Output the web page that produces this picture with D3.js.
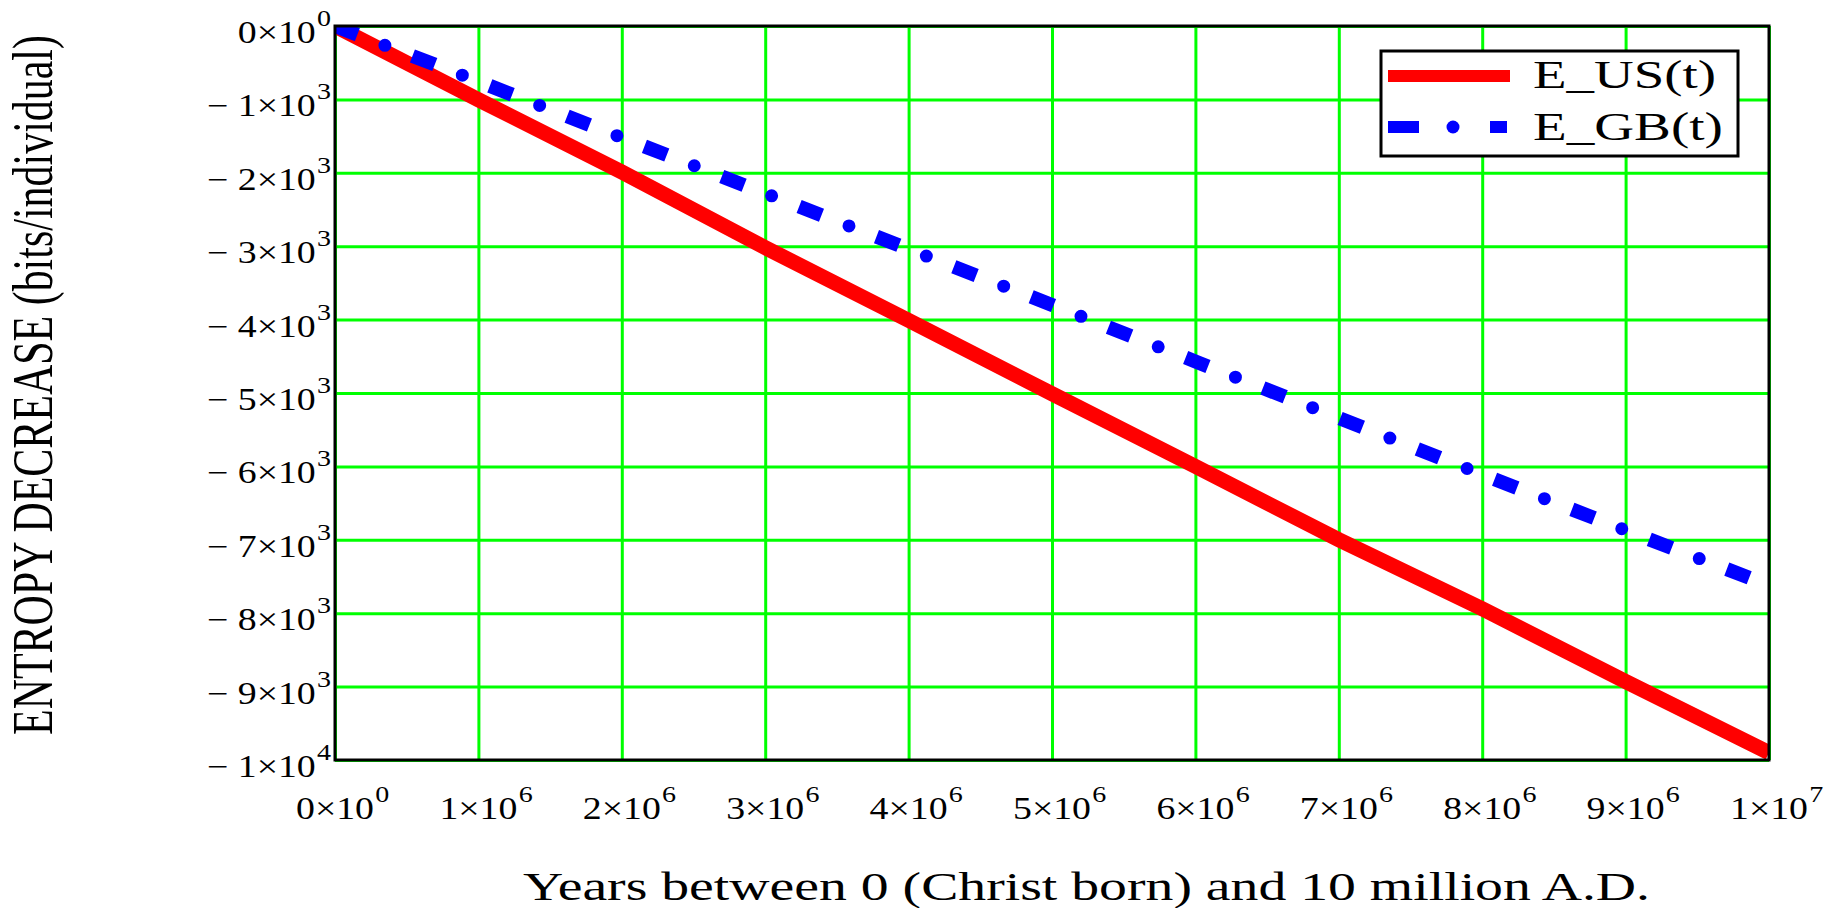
<!DOCTYPE html>
<html>
<head>
<meta charset="utf-8">
<script src="https://cdn.jsdelivr.net/npm/d3@7"></script>
<style>
  body { margin: 0; background: #fff; }
  text { font-family: "Liberation Serif", "Times New Roman", serif; fill: #000; }
</style>
</head>
<body>
<script>
// data
const years = [0, 1e6, 2e6, 3e6, 4e6, 5e6, 6e6, 7e6, 8e6, 9e6, 1e7];
const eUS = [0, -1005, -1990, -3020, -4010, -5010, -6000, -7000, -7940, -8930, -9900];
const eGB = [0, -755, -1520, -2280, -3040, -3800, -4570, -5340, -6110, -6870, -7620];
const seriesNames = ["E_US(t)", "E_GB(t)"];
const xTicks = [0, 1e6, 2e6, 3e6, 4e6, 5e6, 6e6, 7e6, 8e6, 9e6, 1e7];
const yTicks = [0, -1e3, -2e3, -3e3, -4e3, -5e3, -6e3, -7e3, -8e3, -9e3, -1e4];
const xTitle = "Years between 0 (Christ born) and 10 million A.D.";
const yTitle = "ENTROPY DECREASE (bits/individual)";

const W = 1841, H = 908;
const box = {left: 335, top: 26, right: 1769, bottom: 760};

const svg = d3.select("body").append("svg").attr("width", W).attr("height", H);

const x = d3.scaleLinear().domain([0, 1e7]).range([box.left, box.right]);
const y = d3.scaleLinear().domain([-1e4, 0]).range([box.bottom, box.top]);

// green grid, drawn with the axes
const gx = svg.append("g").attr("transform", `translate(0,${box.bottom})`)
  .call(d3.axisBottom(x).tickValues(xTicks).tickSize(-(box.bottom - box.top)).tickFormat(""));
const gy = svg.append("g").attr("transform", `translate(${box.left},0)`)
  .call(d3.axisLeft(y).tickValues(yTicks).tickSize(-(box.right - box.left)).tickFormat(""));
[gx, gy].forEach(g => {
  g.select(".domain").remove();
  g.selectAll(".tick line").attr("stroke", "#00ff00").attr("stroke-width", 3);
});

// tick label like 1x10^6
function parts(v) {
  if (v === 0) return {base: "0×10", exp: "0"};
  const e = Math.floor(Math.log10(Math.abs(v)));
  const m = Math.round(Math.abs(v) / Math.pow(10, e));
  return {base: (v < 0 ? "− " : "") + m + "×10", exp: String(e)};
}

const sx = 1.22;

// y labels
yTicks.forEach(v => {
  const p = parts(v);
  const g = svg.append("g").attr("transform", `translate(331,${y(v) + 17}) scale(${sx},1)`);
  const sup = g.append("text").attr("text-anchor", "end").attr("y", -17)
    .style("font-size", "23px").text(p.exp);
  const w = sup.node().getComputedTextLength();
  g.append("text").attr("text-anchor", "end").attr("x", -w - 1)
    .style("font-size", "31px").text(p.base);
});

// x labels
xTicks.forEach(v => {
  const p = parts(v);
  const g = svg.append("g").attr("transform", `translate(${x(v)},819) scale(${sx},1)`);
  const b = g.append("text").attr("text-anchor", "middle").style("font-size", "31px").text(p.base);
  const w = b.node().getComputedTextLength();
  g.append("text").attr("x", w / 2 + 1).attr("y", -17).style("font-size", "23px").text(p.exp);
});

// lines
svg.append("clipPath").attr("id", "plot").append("rect")
  .attr("x", box.left).attr("y", box.top)
  .attr("width", box.right - box.left).attr("height", box.bottom - box.top);

const line = d3.line().x(d => x(d[0])).y(d => y(d[1]));
const plot = svg.append("g").attr("clip-path", "url(#plot)");

plot.append("path").datum(d3.zip(years, eUS)).attr("d", line)
  .attr("fill", "none").attr("stroke", "#ff0000").attr("stroke-width", 15);

// dash-dot: dashes and dots as two passes
const gb = d3.zip(years, eGB);
plot.append("path").datum(gb).attr("d", line)
  .attr("fill", "none").attr("stroke", "#0000ff").attr("stroke-width", 14)
  .attr("stroke-dasharray", "24 59");
plot.append("path").datum(gb).attr("d", line)
  .attr("fill", "none").attr("stroke", "#0000ff").attr("stroke-width", 13)
  .attr("stroke-linecap", "round").attr("stroke-dasharray", "0 83").attr("stroke-dashoffset", 29.5);

// frame
svg.append("rect").attr("x", box.left).attr("y", box.top)
  .attr("width", box.right - box.left).attr("height", box.bottom - box.top)
  .attr("fill", "none").attr("stroke", "#000").attr("stroke-width", 3);

// legend
const leg = svg.append("g");
leg.append("rect").attr("x", 1381).attr("y", 51).attr("width", 357).attr("height", 105)
  .attr("fill", "#fff").attr("stroke", "#000").attr("stroke-width", 3);
leg.append("line").attr("x1", 1388).attr("x2", 1510).attr("y1", 76).attr("y2", 76)
  .attr("stroke", "#ff0000").attr("stroke-width", 12);
leg.append("line").attr("x1", 1388).attr("x2", 1507).attr("y1", 127).attr("y2", 127)
  .attr("stroke", "#0000ff").attr("stroke-width", 12).attr("stroke-dasharray", "31 71");
leg.append("line").attr("x1", 1388).attr("x2", 1507).attr("y1", 127).attr("y2", 127)
  .attr("stroke", "#0000ff").attr("stroke-width", 13).attr("stroke-linecap", "round")
  .attr("stroke-dasharray", "0 102").attr("stroke-dashoffset", 37);
leg.selectAll("text.name").data(seriesNames).join("text").attr("class", "name")
  .attr("x", 1533).attr("y", (d, i) => 88 + i * 52)
  .attr("textLength", (d, i) => [183, 190][i]).attr("lengthAdjust", "spacingAndGlyphs")
  .style("font-size", "40px").text(d => d);

// axis titles
svg.append("text").attr("x", 523).attr("y", 900)
  .attr("textLength", 1127).attr("lengthAdjust", "spacingAndGlyphs")
  .style("font-size", "40px").text(xTitle);

svg.append("g").attr("transform", "translate(52,385) scale(1.35,1) rotate(-90)")
  .append("text").attr("text-anchor", "middle")
  .attr("textLength", 700).attr("lengthAdjust", "spacingAndGlyphs")
  .style("font-size", "42px").text(yTitle);
</script>
</body>
</html>
